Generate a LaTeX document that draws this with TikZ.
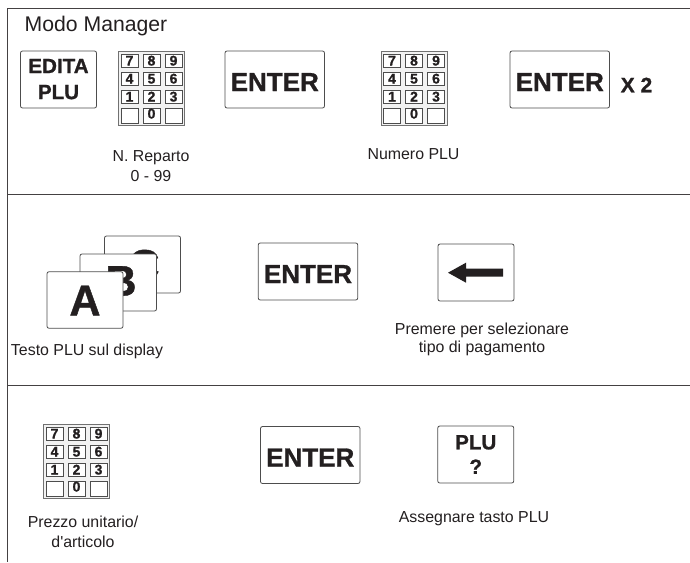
\documentclass[tikz,border=0pt]{standalone}
\usepackage{fontspec}
\setmainfont{Liberation Sans}
\newfontfamily\grassetto[BoldFeatures={FakeBold=1}]{Liberation Sans}
\definecolor{inchiostro}{HTML}{231F20}
\definecolor{bordo}{HTML}{4D4D4D}
\tikzset{
    tasto/.style={draw=bordo, fill=white, line width=.8pt, rounded corners=2pt, inner sep=0pt, align=center, text=inchiostro},
    etichetta/.style={inner sep=0pt, align=center, text=inchiostro, font=\fontsize{15.9}{20}\selectfont},
    enter/.style={tasto, minimum width=99.5pt, minimum height=57pt, text height=23pt, font=\grassetto\bfseries\fontsize{26}{28}\selectfont},
    piccolo/.style={tasto, minimum width=76pt, minimum height=57pt, font=\grassetto\bfseries\fontsize{20.6}{25}\selectfont},
    lettera/.style={inner sep=0pt, text=inchiostro, font=\grassetto\bfseries\fontsize{43}{45}\selectfont},
    cella/.style={draw=bordo, line width=.7pt, fill=white, minimum width=17pt, inner sep=0pt, text=inchiostro, font=\grassetto\bfseries\fontsize{14}{14}\selectfont},
    keypad/.pic={
        \draw[draw=bordo!80, line width=1pt, fill=black!5] (0,0) rectangle (66,74);
        \foreach \d/\c/\r in {7/0/0,8/1/0,9/2/0,4/0/1,5/1/1,6/2/1,1/0/2,2/1/2,3/2/2}{
            \node[cella, minimum height=13pt, text height=10pt, text depth=0pt] (k\d) at ({11+22*\c},{9.5+18*\r}) {\d};
        }
        \node[cella, minimum height=15pt] (kvuoto1) at (11,65) {};
        \node[cella, minimum height=15pt, text height=10pt, text depth=5pt] (k0) at (33,65) {0};
        \node[cella, minimum height=15pt] (kvuoto2) at (55,65) {};
    }
}
\begin{document}
\begin{tikzpicture}[x=1pt, y=-1pt, >=stealth]
    \useasboundingbox (0,0) rectangle (690,562);
    % cornice
    \draw[line width=.9pt, inchiostro!85] (690,8)--(7,8)--(7,562);
    \draw[line width=.9pt, inchiostro!85] (7,194)--(690,194);
    \draw[line width=.9pt, inchiostro!85] (7,385)--(690,385);
    % prima riga
    \node[etichetta, font=\fontsize{21.2}{24}\selectfont] (titolo) at (96,26.5) {Modo Manager};
    \node[piccolo] (edita) at (58.5,79.5) {\raisebox{2pt}{EDITA}\\\raisebox{1pt}{PLU}};
    \pic (padA) at (118.5,51) {keypad};
    \node[enter] (enterA) at (274.75,79.5) {ENTER};
    \pic (padB) at (381,51) {keypad};
    \node[enter] (enterB) at (559.75,79.5) {ENTER};
    \node[inner sep=0pt, text=inchiostro, font=\grassetto\bfseries\fontsize{21}{24}\selectfont] (xdue) at (636.5,85) {X 2};
    \node[etichetta] (reparto) at (151,166.5) {N. Reparto\\0 - 99};
    \node[etichetta] (numero) at (413.5,154.5) {Numero PLU};
    % seconda riga
    \node[tasto, minimum width=76pt, minimum height=57pt] (cartaC) at (142.5,264.5) {};
    \node[lettera] (letteraC) at (144,265) {C};
    \node[tasto, minimum width=76.5pt, minimum height=57pt] (cartaB) at (118.25,282.5) {};
    \node[lettera] (letteraB) at (121,281) {B};
    \node[tasto, minimum width=76pt, minimum height=56.5pt] (cartaA) at (85,300) {};
    \node[lettera] (letteraA) at (85,300.5) {A};
    \node[etichetta] (testo) at (87,351) {Testo PLU sul display};
    \node[enter] (enterC) at (308,271.5) {ENTER};
    \node[piccolo] (freccia) at (476,272.5) {};
    \fill[inchiostro] (448,272.7)--(466,262.7)--(466,268.7)--(503,268.7)--(503,276.7)--(466,276.7)--(466,282.7)--cycle;
    \node[etichetta, font=\fontsize{15.9}{18}\selectfont] (premere) at (482,339.5) {Premere per selezionare\\tipo di pagamento};
    % terza riga
    \pic (padC) at (43.5,424) {keypad};
    \node[etichetta] (prezzo) at (83,532) {Prezzo unitario/\\d\textquotesingle articolo};
    \node[enter] (enterD) at (310.25,455) {ENTER};
    \node[piccolo] (plu) at (475.75,454.5) {\raisebox{-1.5pt}{PLU}\\\raisebox{-1pt}{?}};
    \node[etichetta] (assegna) at (474,518.5) {Assegnare tasto PLU};
\end{tikzpicture}
\end{document}
